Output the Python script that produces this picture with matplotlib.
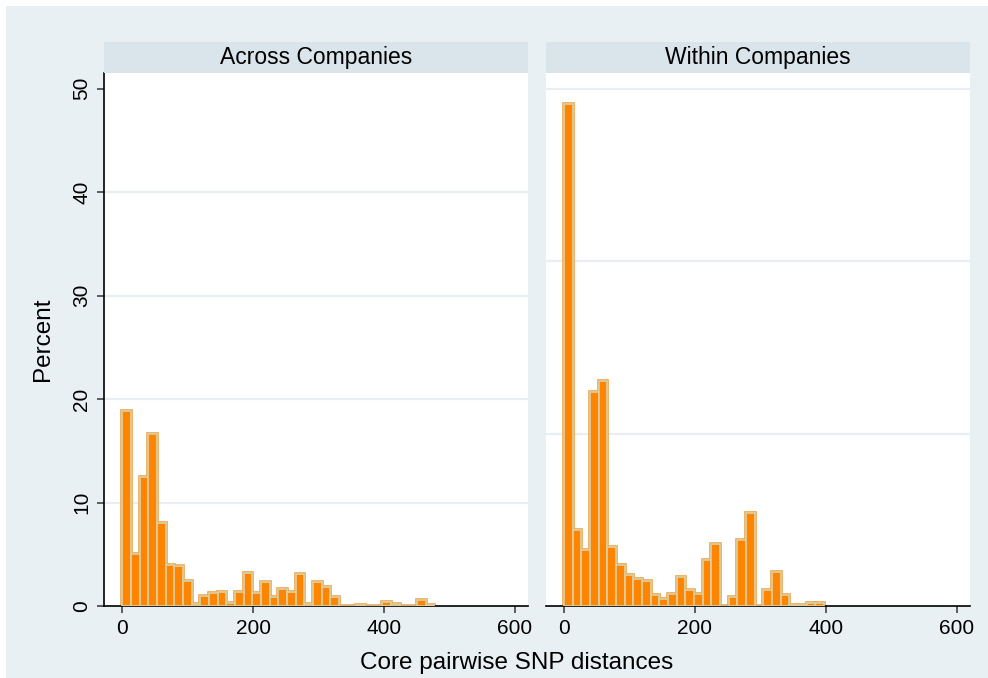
import numpy as np
import matplotlib
matplotlib.use("Agg")
import matplotlib.pyplot as plt
from matplotlib.patches import Rectangle

plt.rcParams['font.family'] = ['Liberation Sans', 'DejaVu Sans']

# histogram data (percent per bin), shared bins of width ~13.24 starting at 0
bin_width = 13.24
across_pct = [18.8, 5.06, 12.47, 16.63, 8.03, 3.97, 3.87, 2.42, 0.19, 0.93,
              1.26, 1.35, 0.32, 1.35, 3.19, 1.26, 2.33, 0.86, 1.66, 1.35,
              3.08, 0.19, 2.32, 1.8, 0.87, 0.0, 0.0, 0.1, 0.0, 0.0,
              0.35, 0.2, 0.0, 0.0, 0.58, 0.1]
within_pct = [48.5, 7.36, 5.44, 20.7, 21.7, 5.73, 4.0, 2.96, 2.57, 2.38,
              1.1, 0.68, 1.12, 2.77, 1.5, 1.2, 4.4, 6.0, 0.0, 0.86,
              6.33, 8.97, 0.0, 1.5, 3.26, 1.06, 0.06, 0.1, 0.26, 0.26]
panel_titles = ["Across Companies", "Within Companies"]
x_ticks = [0, 200, 400, 600]
left_grid = [10, 20, 30, 40]
right_grid = [50 / 3, 100 / 3, 50]
left_yticks = [0, 10, 20, 30, 40, 50]

W, H = 988, 678
bg = '#e9f0f3'
strip_col = '#d9e5eb'
grid_col = '#e8eff2'

fig = plt.figure(figsize=(W / 100, H / 100), dpi=100)
fig.patch.set_facecolor('white')
fig.add_artist(Rectangle((6 / W, 0), 1 - 6 / W, 1 - 6 / H,
                         transform=fig.transFigure, facecolor=bg,
                         edgecolor='none', zorder=-10))


def px_rect(x0, y0, x1, y1):
    return [x0 / W, (H - y1) / H, (x1 - x0) / W, (y1 - y0) / H]


panels = [(104, 528.3, across_pct, left_grid), (545.7, 970, within_pct, right_grid)]
axes = []
for i, (x0, x1, pct, grid) in enumerate(panels):
    ax = fig.add_axes(px_rect(x0, 73, x1, 606))
    ax.set_facecolor('white')
    edges = np.arange(len(pct)) * bin_width
    ax.bar(edges, pct, width=bin_width, align='edge', color='#ff8400',
           edgecolor='#eda24a', linewidth=2.6, zorder=2)
    ax.bar(edges, pct, width=bin_width, align='edge', color='#ff8400',
           edgecolor='#dccd9c', linewidth=1.3, zorder=3)
    for g in grid:
        ax.axhline(g, color=grid_col, lw=1.6, zorder=1)
    ax.set_xlim(-28, 620.5)
    ax.set_ylim(0, 51.5)
    ax.set_xticks(x_ticks)
    ax.set_xticklabels([str(t) for t in x_ticks], fontsize=15)
    ax.tick_params(axis='x', direction='out', length=5, width=1.2,
                   color='#444444', pad=4)
    for s in ['top', 'right']:
        ax.spines[s].set_visible(False)
    ax.spines['bottom'].set_linewidth(1.2)
    if i == 0:
        ax.set_yticks(left_yticks)
        ax.set_yticklabels([str(t) for t in left_yticks], fontsize=15,
                           rotation=90, va='center')
        ax.tick_params(axis='y', direction='out', length=5, width=1.2,
                       color='#444444', pad=4)
        ax.spines['left'].set_linewidth(1.2)
    else:
        ax.set_yticks([])
        ax.spines['left'].set_visible(False)
    # strip header
    sax = fig.add_axes(px_rect(x0, 42, x1, 73))
    sax.set_facecolor(strip_col)
    sax.set_xticks([])
    sax.set_yticks([])
    for s in sax.spines.values():
        s.set_visible(False)
    sax.text(0.5, 0.5, panel_titles[i], ha='center', va='center',
             fontsize=16.5, transform=sax.transAxes)
    axes.append(ax)

fig.text(43 / W, 1 - 339 / H, "Percent", rotation=90, ha='center',
         va='center', fontsize=17.5)
fig.text(517 / W, 1 - 663 / H, "Core pairwise SNP distances", ha='center',
         va='center', fontsize=17.5)

fig.savefig("out.png", dpi=100, facecolor=fig.get_facecolor())
